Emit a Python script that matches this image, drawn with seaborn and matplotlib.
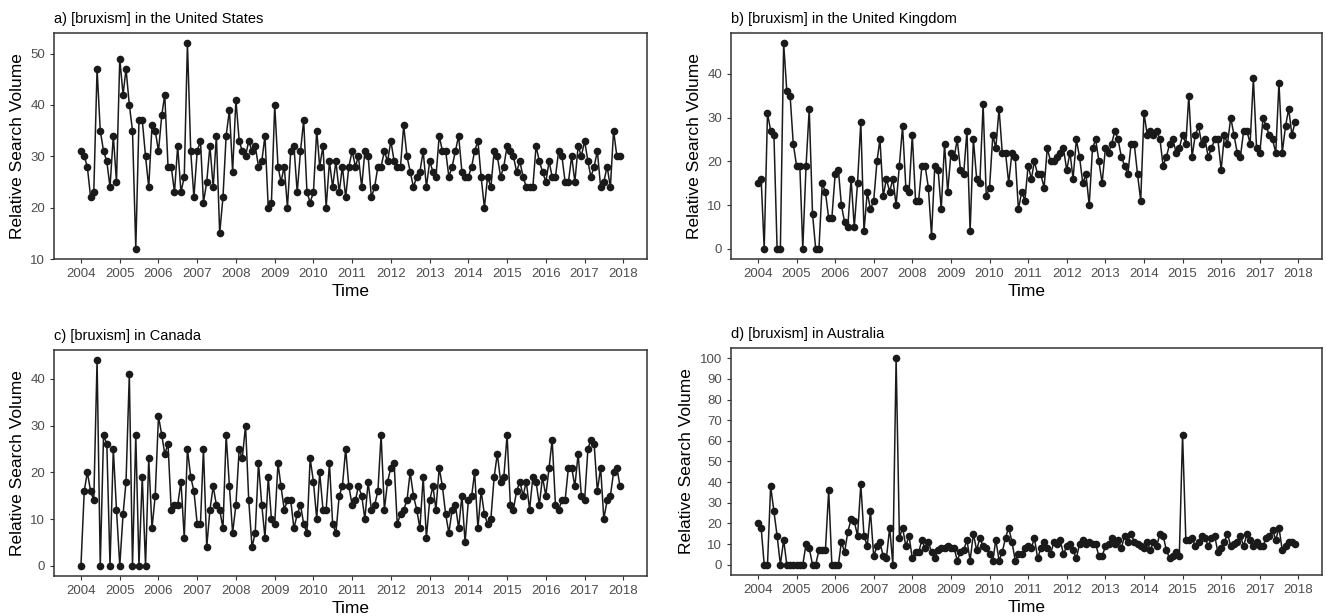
import matplotlib
matplotlib.use("Agg")
import matplotlib.pyplot as plt
import matplotlib.dates as mdates
import pandas as pd
import seaborn as sns

# monthly relative search volume, Jan 2004 - Dec 2017 (one row per year)
us_vals = [
    31, 30, 28, 22, 23, 47, 35, 31, 29, 24, 34, 25,
    49, 42, 47, 40, 35, 12, 37, 37, 30, 24, 36, 35,
    31, 38, 42, 28, 28, 23, 32, 23, 26, 52, 31, 22,
    31, 33, 21, 25, 32, 24, 34, 15, 22, 34, 39, 27,
    41, 33, 31, 30, 33, 31, 32, 28, 29, 34, 20, 21,
    40, 28, 25, 28, 20, 31, 32, 23, 31, 37, 23, 21,
    23, 35, 28, 32, 20, 29, 24, 29, 23, 28, 22, 28,
    31, 28, 30, 24, 31, 30, 22, 24, 28, 28, 31, 29,
    33, 29, 28, 28, 36, 30, 27, 24, 26, 27, 31, 24,
    29, 27, 26, 34, 31, 31, 26, 28, 31, 34, 27, 26,
    26, 28, 31, 33, 26, 20, 26, 24, 31, 30, 26, 28,
    32, 31, 30, 27, 29, 26, 24, 24, 24, 32, 29, 27,
    25, 29, 26, 26, 31, 30, 25, 25, 30, 25, 32, 30,
    33, 29, 26, 28, 31, 24, 25, 28, 24, 35, 30, 30,
]
uk_vals = [
    15, 16, 0, 31, 27, 26, 0, 0, 47, 36, 35, 24,
    19, 19, 0, 19, 32, 8, 0, 0, 15, 13, 7, 7,
    17, 18, 10, 6, 5, 16, 5, 15, 29, 4, 13, 9,
    11, 20, 25, 12, 16, 13, 16, 10, 19, 28, 14, 13,
    26, 11, 11, 19, 19, 14, 3, 19, 18, 9, 24, 13,
    22, 21, 25, 18, 17, 27, 4, 25, 16, 15, 33, 12,
    14, 26, 23, 32, 22, 22, 15, 22, 21, 9, 13, 11,
    19, 16, 20, 17, 17, 14, 23, 20, 20, 21, 22, 23,
    18, 22, 16, 25, 21, 15, 17, 10, 23, 25, 20, 15,
    23, 22, 24, 27, 25, 21, 19, 17, 24, 24, 17, 11,
    31, 26, 27, 26, 27, 25, 19, 21, 24, 25, 22, 23,
    26, 24, 35, 21, 26, 28, 24, 25, 21, 23, 25, 25,
    18, 26, 24, 30, 26, 22, 21, 27, 27, 24, 39, 23,
    22, 30, 28, 26, 25, 22, 38, 22, 28, 32, 26, 29,
]
ca_vals = [
    0, 16, 20, 16, 14, 44, 0, 28, 26, 0, 25, 12,
    0, 11, 18, 41, 0, 28, 0, 19, 0, 23, 8, 15,
    32, 28, 24, 26, 12, 13, 13, 18, 6, 25, 19, 16,
    9, 9, 25, 4, 12, 17, 13, 12, 8, 28, 17, 7,
    13, 25, 23, 30, 14, 4, 7, 22, 13, 6, 19, 10,
    9, 22, 17, 12, 14, 14, 8, 11, 13, 9, 7, 23,
    18, 10, 20, 12, 12, 22, 9, 7, 15, 17, 25, 17,
    13, 14, 17, 15, 10, 18, 12, 13, 16, 28, 12, 18,
    21, 22, 9, 11, 12, 14, 20, 15, 12, 8, 19, 6,
    14, 17, 12, 21, 17, 11, 7, 12, 13, 8, 15, 5,
    14, 15, 20, 8, 16, 11, 9, 10, 19, 24, 18, 19,
    28, 13, 12, 16, 18, 15, 18, 12, 19, 18, 13, 19,
    15, 21, 27, 13, 12, 14, 14, 21, 21, 17, 24, 15,
    14, 25, 27, 26, 16, 21, 10, 14, 15, 20, 21, 17,
]
au_vals = [
    20, 18, 0, 0, 38, 26, 14, 0, 12, 0, 0, 0,
    0, 0, 0, 10, 8, 0, 0, 7, 7, 7, 36, 0,
    0, 0, 11, 6, 16, 22, 21, 14, 39, 14, 9, 26,
    4, 9, 11, 4, 3, 18, 0, 100, 13, 18, 9, 14,
    3, 6, 6, 12, 8, 11, 6, 3, 7, 8, 8, 9,
    8, 8, 2, 6, 7, 12, 2, 15, 7, 13, 9, 8,
    5, 2, 12, 2, 6, 13, 18, 11, 2, 5, 5, 8,
    9, 8, 13, 3, 8, 11, 8, 5, 11, 10, 12, 5,
    9, 10, 7, 3, 10, 12, 10, 11, 10, 10, 4, 4,
    9, 10, 13, 10, 12, 8, 14, 11, 15, 11, 10, 9,
    8, 11, 7, 11, 9, 15, 14, 7, 3, 4, 6, 4,
    63, 12, 12, 13, 9, 11, 14, 13, 9, 13, 14, 6,
    8, 11, 15, 9, 10, 11, 14, 9, 15, 12, 9, 11,
    9, 9, 13, 14, 17, 12, 18, 7, 9, 11, 11, 10,
]

titles = [
    "a) [bruxism] in the United States",
    "b) [bruxism] in the United Kingdom",
    "c) [bruxism] in Canada",
    "d) [bruxism] in Australia",
]
yticks = [
    [10, 20, 30, 40, 50],
    [0, 10, 20, 30, 40],
    [0, 10, 20, 30, 40],
    list(range(0, 101, 10)),
]

months = pd.date_range("2004-01-01", periods=len(us_vals), freq="MS")

sns.set_theme(style="ticks")
plt.rcParams["font.family"] = ["Liberation Sans", "DejaVu Sans"]

W, H = 1326, 616
fig = plt.figure(figsize=(W / 100, H / 100), dpi=100)

# panel boxes in pixels: left, top, right, bottom
boxes = [(54, 33, 647, 259), (731, 33, 1322, 259),
         (54, 350, 647, 576), (731, 348, 1322, 575)]

for vals, title, ticks, (l, t, r, b) in zip(
        [us_vals, uk_vals, ca_vals, au_vals], titles, yticks, boxes):
    ax = fig.add_axes([l / W, 1 - b / H, (r - l) / W, (b - t) / H])
    df = pd.DataFrame({"Time": months, "Volume": vals})
    sns.lineplot(data=df, x="Time", y="Volume", ax=ax, color="#1a1a1a",
                 linewidth=1.1, marker="o", markersize=5.5,
                 markeredgewidth=0)
    ax.xaxis.set_major_locator(mdates.YearLocator())
    ax.xaxis.set_major_formatter(mdates.DateFormatter("%Y"))
    ax.set_yticks(ticks)
    ax.set_xlabel("Time", fontsize=12.5, color="black", labelpad=3)
    ax.set_ylabel("Relative Search Volume", fontsize=12.5, color="black")
    ax.set_title(title, loc="left", fontsize=10.5, pad=7, color="black")
    ax.tick_params(axis="both", labelsize=9.5, labelcolor="#4d4d4d",
                   color="#333333", length=3, width=0.8)
    for s in ax.spines.values():
        s.set_visible(True)
        s.set_color("#333333")
        s.set_linewidth(1.1)

fig.savefig("out.png", dpi=100)
